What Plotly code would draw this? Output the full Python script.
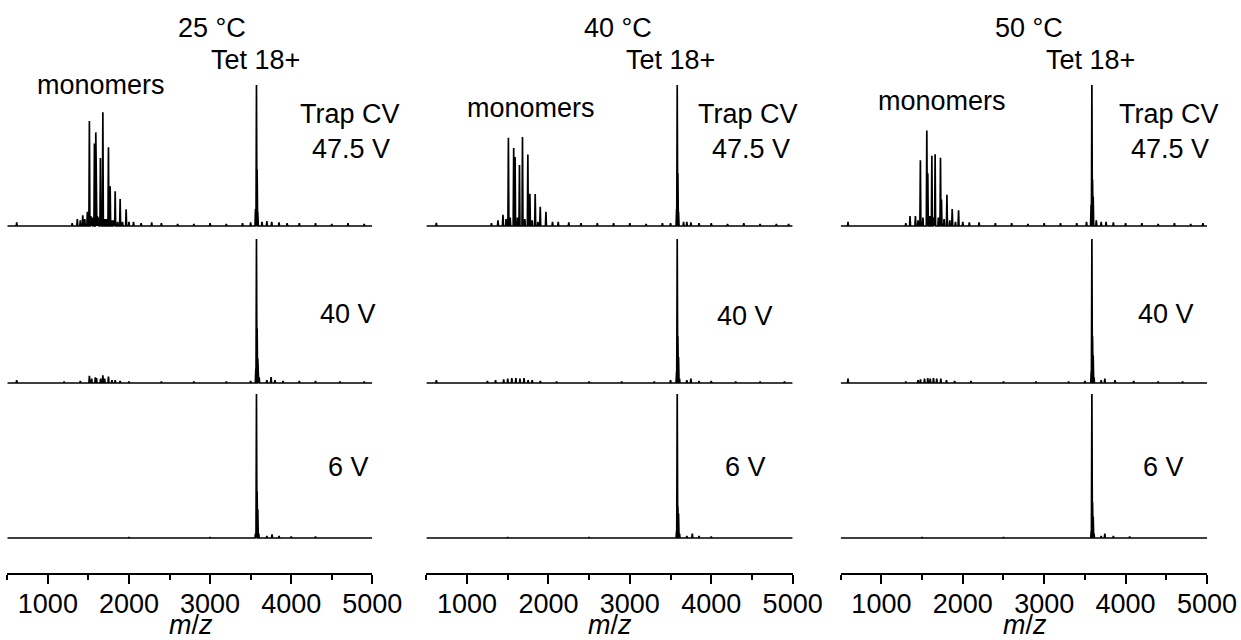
import plotly.graph_objects as go

# ---------------- data ----------------
MZ_RANGE = [500, 5000]
TICK_VALS = [1000, 2000, 3000, 4000, 5000]
MINOR_TICK_VALS = [500, 1500, 2500, 3500, 4500]
TEMPS = ["25 °C", "40 °C", "50 °C"]
ROW_LABELS = ["47.5 V", "40 V", "6 V"]
PEAK_LABEL = "Tet 18+"
CLUSTER_LABEL = "monomers"

# 25 °C, Trap CV 47.5 V  (m/z, relative intensity)
MZ_25_475 = [616, 1300, 1363, 1400, 1430, 1455, 1487, 1512, 1530, 1550, 1574, 1591, 1610, 1625, 1648, 1660,
             1678, 1700, 1720, 1747, 1768, 1790, 1810, 1830, 1860, 1891, 1920, 1965, 2000, 2056, 2150, 2280,
             2400, 2600, 2800, 3000, 3200, 3400, 3500, 3560, 3572, 3580, 3588, 3640, 3700, 3760, 3850, 3950,
             4100, 4300, 4500, 4700, 4900]
I_25_475 = [0.026, 0.02, 0.05, 0.04, 0.076, 0.05, 0.10, 0.744, 0.07, 0.06, 0.585, 0.664, 0.07, 0.06, 0.483, 0.06,
            0.806, 0.05, 0.05, 0.559, 0.282, 0.04, 0.04, 0.246, 0.03, 0.192, 0.03, 0.118, 0.03, 0.03, 0.02, 0.025,
            0.02, 0.015, 0.015, 0.02, 0.015, 0.02, 0.025, 0.12, 1.0, 0.40, 0.10, 0.03, 0.035, 0.03, 0.025, 0.02,
            0.02, 0.02, 0.015, 0.02, 0.015]

# 40 °C, Trap CV 47.5 V
MZ_40_475 = [623, 1300, 1380, 1441, 1480, 1508, 1530, 1573, 1590, 1620, 1644, 1681, 1710, 1747, 1772, 1800,
             1837, 1870, 1899, 1969, 2050, 2120, 2250, 2400, 2600, 2800, 3000, 3200, 3400, 3500, 3574, 3582,
             3590, 3598, 3660, 3700, 3750, 3850, 4000, 4200, 4400, 4600, 4800, 4950]
I_40_475 = [0.023, 0.02, 0.04, 0.08, 0.05, 0.626, 0.06, 0.554, 0.49, 0.06, 0.432, 0.631, 0.05, 0.507, 0.229, 0.04,
            0.227, 0.03, 0.136, 0.10, 0.03, 0.03, 0.025, 0.02, 0.02, 0.02, 0.02, 0.015, 0.02, 0.02, 0.12, 1.0,
            0.374, 0.10, 0.03, 0.03, 0.025, 0.02, 0.02, 0.015, 0.02, 0.015, 0.015, 0.015]

# 50 °C, Trap CV 47.5 V
MZ_50_475 = [590, 1300, 1352, 1418, 1450, 1479, 1510, 1558, 1570, 1595, 1620, 1640, 1660, 1700, 1726, 1738,
             1770, 1805, 1840, 1870, 1910, 1948, 2000, 2080, 2200, 2400, 2600, 2800, 3000, 3200, 3400, 3520,
             3576, 3586, 3594, 3602, 3640, 3700, 3760, 3850, 4000, 4200, 4400, 4600, 4800, 4950]
I_50_475 = [0.03, 0.02, 0.07, 0.07, 0.04, 0.467, 0.06, 0.678, 0.374, 0.07, 0.498, 0.06, 0.509, 0.06, 0.484, 0.187,
            0.05, 0.222, 0.04, 0.121, 0.03, 0.112, 0.03, 0.025, 0.025, 0.02, 0.02, 0.015, 0.02, 0.02, 0.02, 0.03,
            0.15, 1.0, 0.33, 0.21, 0.04, 0.03, 0.03, 0.025, 0.02, 0.02, 0.015, 0.02, 0.015, 0.02]

# 25 °C, 40 V
MZ_25_40 = [616, 1200, 1400, 1512, 1540, 1585, 1600, 1650, 1678, 1700, 1747, 1790, 1830, 1891, 2000, 2400,
            2800, 3200, 3500, 3564, 3572, 3580, 3588, 3605, 3700, 3752, 3800, 3900, 4100, 4300, 4600, 4900]
I_25_40 = [0.02, 0.01, 0.015, 0.05, 0.03, 0.04, 0.035, 0.03, 0.053, 0.03, 0.045, 0.02, 0.02, 0.015, 0.01, 0.01,
           0.01, 0.01, 0.015, 0.10, 1.0, 0.378, 0.17, 0.04, 0.02, 0.042, 0.02, 0.015, 0.015, 0.015, 0.01, 0.01]

# 40 °C, 40 V
MZ_40_40 = [623, 1250, 1350, 1450, 1500, 1550, 1600, 1650, 1700, 1750, 1800, 1900, 2100, 2500, 2900, 3300,
            3500, 3574, 3582, 3590, 3598, 3610, 3700, 3750, 3850, 4000, 4300, 4600, 4900]
I_40_40 = [0.02, 0.015, 0.02, 0.025, 0.03, 0.035, 0.035, 0.03, 0.035, 0.02, 0.02, 0.015, 0.01, 0.01, 0.01, 0.01,
           0.02, 0.08, 1.0, 0.325, 0.18, 0.03, 0.02, 0.03, 0.015, 0.015, 0.01, 0.01, 0.01]

# 50 °C, 40 V
MZ_50_40 = [590, 1300, 1450, 1480, 1530, 1570, 1600, 1640, 1680, 1730, 1800, 1900, 2100, 2500, 2900, 3300,
            3500, 3578, 3586, 3594, 3602, 3612, 3700, 3745, 3870, 4100, 4400, 4700]
I_50_40 = [0.03, 0.01, 0.02, 0.025, 0.03, 0.035, 0.03, 0.035, 0.03, 0.03, 0.02, 0.015, 0.015, 0.01, 0.01, 0.01,
           0.015, 0.08, 1.0, 0.325, 0.19, 0.04, 0.02, 0.03, 0.02, 0.015, 0.01, 0.01]

# 25 °C, 6 V
MZ_25_6 = [1000, 2000, 3000, 3560, 3572, 3580, 3588, 3600, 3700, 3764, 3850, 4000, 4300]
I_25_6 = [0.005, 0.006, 0.006, 0.03, 1.0, 0.325, 0.20, 0.03, 0.015, 0.025, 0.015, 0.01, 0.01]

# 40 °C, 6 V
MZ_40_6 = [1500, 2500, 3574, 3582, 3590, 3598, 3610, 3700, 3767, 3850, 4000]
I_40_6 = [0.006, 0.006, 0.05, 1.0, 0.22, 0.17, 0.03, 0.015, 0.03, 0.015, 0.01]

# 50 °C, 6 V
MZ_50_6 = [1500, 2500, 3578, 3586, 3594, 3602, 3612, 3700, 3745, 3850, 4050]
I_50_6 = [0.006, 0.006, 0.05, 1.0, 0.25, 0.15, 0.03, 0.015, 0.03, 0.015, 0.01]

SPECTRA = [
    [(MZ_25_475, I_25_475), (MZ_25_40, I_25_40), (MZ_25_6, I_25_6)],
    [(MZ_40_475, I_40_475), (MZ_40_40, I_40_40), (MZ_40_6, I_40_6)],
    [(MZ_50_475, I_50_475), (MZ_50_40, I_50_40), (MZ_50_6, I_50_6)],
]

# ---------------- layout geometry (pixels) ----------------
W, H = 1241, 640
W_EFF = 1210  # horizontal extent the page actually lays the figure out at
COL_PX = [(7.3, 372), (426, 792), (840, 1206)]
# baseline px, unit-top px, domain bottom px, domain top px
ROW_PX = [(226, 85, 231, 80), (383, 239, 388, 234), (538, 394, 573, 389)]
HALF_W = 6  # stick half-width in m/z


def stick_line(mz, inten):
    pts = sorted(zip(mz, inten))
    xs, ys = [MZ_RANGE[0]], [0]
    for m, v in pts:
        xs += [m - HALF_W, m, m + HALF_W]
        ys += [0, v, 0]
    xs.append(MZ_RANGE[1])
    ys.append(0)
    return xs, ys


FONT_FAMILY = "Liberation Sans, Arial, sans-serif"
FONT = dict(family=FONT_FAMILY, size=27, color="black")

fig = go.Figure()
layout = {}
for c in range(3):
    xname = "xaxis" if c == 0 else f"xaxis{c + 1}"
    xref = "x" if c == 0 else f"x{c + 1}"
    bottom_y_index = c * 3 + 3
    for r in range(3):
        idx = c * 3 + r + 1
        yname = "yaxis" if idx == 1 else f"yaxis{idx}"
        yref = "y" if idx == 1 else f"y{idx}"
        B, T, pb, pt = ROW_PX[r]
        unit = B - T
        layout[yname] = dict(
            domain=[1 - pb / H, 1 - pt / H],
            range=[(B - pb) / unit, (B - pt) / unit],
            visible=False, anchor=xref, fixedrange=True,
        )
        xs, ys = stick_line(*SPECTRA[c][r])
        fig.add_trace(go.Scatter(x=xs, y=ys, xaxis=xref, yaxis=yref, mode="lines",
                                 line=dict(color="black", width=1.7), hoverinfo="skip",
                                 showlegend=False))
    x0, x1 = COL_PX[c]
    layout[xname] = dict(
        domain=[x0 / W_EFF, min(x1 / W_EFF, 1.0)], range=MZ_RANGE,
        anchor="y" if bottom_y_index == 1 else f"y{bottom_y_index}",
        showline=True, linecolor="black", linewidth=1.5,
        ticks="outside", ticklen=9, tickwidth=1.5, tickcolor="black",
        tickvals=TICK_VALS, ticktext=[str(v) for v in TICK_VALS],
        ticklabelstandoff=-3,
        minor=dict(tickvals=MINOR_TICK_VALS, ticks="outside", ticklen=5,
                   tickwidth=1.5, tickcolor="black", showgrid=False),
        showgrid=False, zeroline=False,
        tickfont=FONT,
        fixedrange=True,
    )

ann = []


def add_text(text, xpx, ypx):
    ann.append(dict(text=text, x=xpx / W_EFF, y=1 - ypx / H, xref="paper", yref="paper",
                    xanchor="center", yanchor="middle", showarrow=False, font=FONT))


TEMP_POS = [(212, 28), (617, 28), (1028, 28)]
TET_POS = [(255, 60), (670, 60), (1090, 60)]
MONO_POS = [(101, 85), (531, 108), (941, 101)]
TRAP_POS = [(350, 114), (747, 114), (1168, 114)]
V475_POS = [(351, 149), (750, 149), (1169, 149)]
V40_POS = [(348, 314), (744, 316), (1165, 314)]
V6_POS = [(348, 467), (745, 467), (1163, 467)]
MZ_POS = [(191, 625), (609, 625), (1024, 625)]

for c in range(3):
    add_text(TEMPS[c], *TEMP_POS[c])
    add_text(PEAK_LABEL, *TET_POS[c])
    add_text(CLUSTER_LABEL, *MONO_POS[c])
    add_text("Trap CV", *TRAP_POS[c])
    add_text(ROW_LABELS[0], *V475_POS[c])
    add_text(ROW_LABELS[1], *V40_POS[c])
    add_text(ROW_LABELS[2], *V6_POS[c])
    add_text("<i>m</i>/<i>z</i>", *MZ_POS[c])

fig.update_layout(
    width=W, height=H, autosize=False, margin=dict(l=0, r=0, t=0, b=0, pad=0),
    paper_bgcolor="white", plot_bgcolor="white",
    annotations=ann, showlegend=False, **layout,
)

fig.write_html("out.html", config={"displayModeBar": False, "responsive": False})
